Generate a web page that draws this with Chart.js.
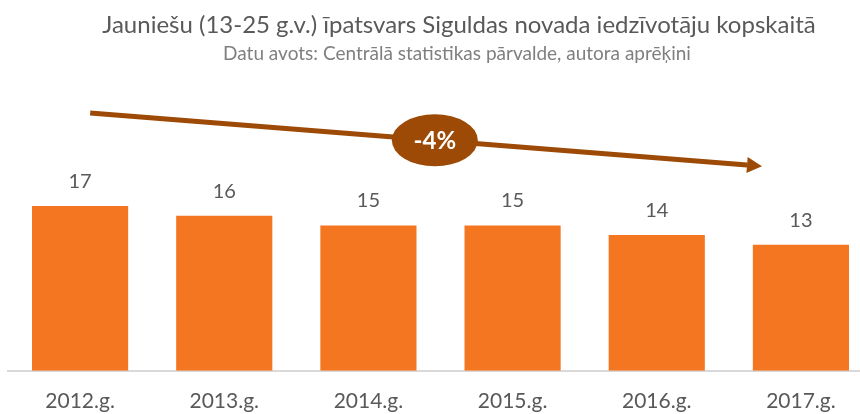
<!DOCTYPE html>
<html>
<head>
<meta charset="utf-8">
<script src="https://cdn.jsdelivr.net/npm/chart.js@4/dist/chart.umd.min.js"></script>
<style>
    html, body { margin: 0; padding: 0; background: #fff; overflow: hidden; }
    #wrap { width: 860px; height: 414px; overflow: hidden; }
    #box { width: 880px; height: 414px; }
</style>
</head>
<body>
<div id="wrap"><div id="box"><canvas id="chart"></canvas></div></div>
<script>
const titleText = 'Jauniešu (13-25 g.v.) īpatsvars Siguldas novada iedzīvotāju kopskaitā';
const subtitleText = 'Datu avots: Centrālā statistikas pārvalde, autora aprēķini';

const years = ['2012.g.', '2013.g.', '2014.g.', '2015.g.', '2016.g.', '2017.g.'];
const shares = [17, 16, 15, 15, 14, 13];

// trend arrow, in data units (category index, value)
const trendFrom = [0.07, 26.6];
const trendTo = [4.73, 21.1];
const trendLabel = '-4%';

const orange = '#f47621';
const brown = '#9c4a06';
const grey = '#595959';
const font = 'Lato, "Open Sans", sans-serif';

const canvas = document.getElementById('chart').getContext('2d');

const titles = {
    id: 'titles',
    afterDraw(chart) {
        const ctx = chart.ctx;
        ctx.save();
        ctx.textAlign = 'center';
        ctx.textBaseline = 'alphabetic';
        ctx.fillStyle = grey;
        ctx.font = '24px ' + font;
        ctx.fillText(titleText, 459, 33);
        ctx.fillStyle = '#7f7f7f';
        ctx.font = '19px ' + font;
        ctx.fillText(subtitleText, 457, 60);
        ctx.restore();
    }
};

const valueLabels = {
    id: 'valueLabels',
    afterDatasetsDraw(chart) {
        const ctx = chart.ctx;
        ctx.save();
        ctx.textAlign = 'center';
        ctx.textBaseline = 'alphabetic';
        ctx.fillStyle = grey;
        ctx.font = '20px ' + font;
        chart.getDatasetMeta(0).data.forEach((bar, i) => {
            ctx.fillText(shares[i], bar.x, bar.y - 18);
        });
        ctx.restore();
    }
};

const trendArrow = {
    id: 'trendArrow',
    afterDatasetsDraw(chart) {
        const { x, y } = chart.scales;
        const ctx = chart.ctx;
        const x1 = x.getPixelForValue(trendFrom[0]);
        const y1 = y.getPixelForValue(trendFrom[1]);
        const x2 = x.getPixelForValue(trendTo[0]);
        const y2 = y.getPixelForValue(trendTo[1]);
        const ang = Math.atan2(y2 - y1, x2 - x1);
        const head = 15;
        ctx.save();
        ctx.strokeStyle = brown;
        ctx.fillStyle = brown;
        ctx.lineWidth = 5;
        ctx.beginPath();
        ctx.moveTo(x1, y1);
        ctx.lineTo(x2 - head * Math.cos(ang), y2 - head * Math.sin(ang));
        ctx.stroke();
        ctx.translate(x2, y2);
        ctx.rotate(ang);
        ctx.beginPath();
        ctx.moveTo(0, 0);
        ctx.lineTo(-head, -8);
        ctx.lineTo(-head, 8);
        ctx.closePath();
        ctx.fill();
        ctx.setTransform(1, 0, 0, 1, 0, 0);

        const t = 0.513;
        const cx = x1 + (x2 - x1) * t;
        const cy = y1 + (y2 - y1) * t;
        ctx.beginPath();
        ctx.ellipse(cx, cy, 43, 26, 0, 0, Math.PI * 2);
        ctx.fill();
        ctx.fillStyle = '#fff';
        ctx.font = 'bold 24px ' + font;
        ctx.textAlign = 'center';
        ctx.textBaseline = 'middle';
        ctx.fillText(trendLabel, cx, cy + 1);
        ctx.restore();
    }
};

new Chart(canvas, {
    type: 'bar',
    data: {
        labels: years,
        datasets: [{
            data: shares,
            backgroundColor: orange,
            borderWidth: 0,
            barPercentage: 0.667,
            categoryPercentage: 1
        }]
    },
    options: {
        responsive: true,
        maintainAspectRatio: false,
        animation: false,
        layout: {
            padding: { top: 80, left: 8, right: 7, bottom: -18 }
        },
        plugins: {
            legend: { display: false },
            tooltip: { enabled: false }
        },
        scales: {
            x: {
                grid: { display: false, drawTicks: false },
                border: { color: '#d9d9d9', width: 2 },
                ticks: {
                    color: grey,
                    font: { family: font, size: 21 },
                    padding: 18,
                    maxRotation: 0
                }
            },
            y: {
                display: false,
                min: 0,
                max: 30
            }
        }
    },
    plugins: [titles, valueLabels, trendArrow]
});
</script>
</body>
</html>
